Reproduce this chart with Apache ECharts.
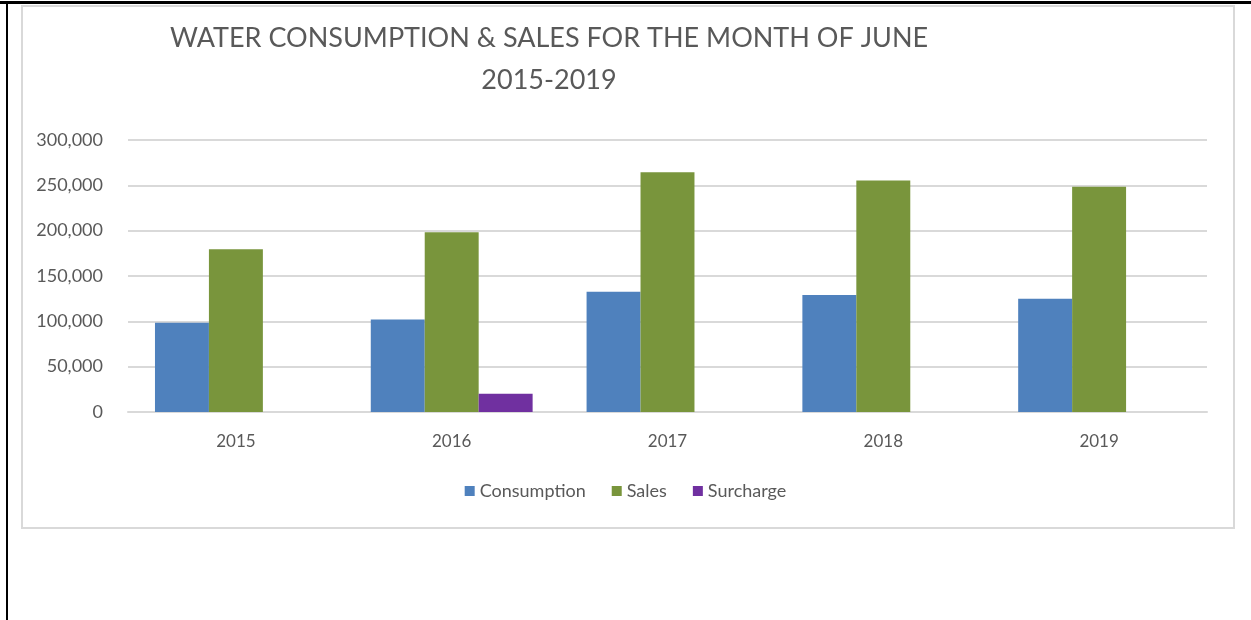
<!DOCTYPE html>
<html>
<head>
<meta charset="utf-8">
<script src="https://cdn.jsdelivr.net/npm/echarts@6/dist/echarts.min.js"></script>
<style>
    body { margin: 0; background: #fff; }
    #page { position: absolute; left: 0; top: 0; width: 1251px; height: 620px; }
    #edgeTop { position: absolute; left: 0; top: 1px; width: 1251px; height: 3px; background: #000; }
    #edgeLeft { position: absolute; left: 6px; top: 1px; width: 2px; height: 619px; background: #000; }
    #box { position: absolute; left: 21px; top: 5px; width: 1210px; height: 520px; border: 2px solid #d9d9d9; }
    #chart { position: absolute; left: 0; top: 0; width: 1251px; height: 620px; }
</style>
</head>
<body>
<div id="page">
    <div id="edgeTop"></div>
    <div id="edgeLeft"></div>
    <div id="box"></div>
    <div id="chart"></div>
</div>
<script>
const years = ['2015', '2016', '2017', '2018', '2019'];
const consumption = [98500, 102000, 132700, 129000, 125000];
const sales = [179500, 198200, 264400, 255200, 248500];
const surcharge = [0, 20000, 0, 0, 0];

const fontName = 'Lato';
const textGrey = '#595959';

var chart = echarts.init(document.getElementById('chart'));

var option = {
    animation: false,
    title: {
        text: 'WATER CONSUMPTION & SALES FOR THE MONTH OF JUNE\n2015-2019',
        left: 544,
        top: 12,
        textAlign: 'center',
        textStyle: {
            fontFamily: fontName,
            fontSize: 27,
            fontWeight: 'normal',
            color: textGrey,
            lineHeight: 42
        }
    },
    legend: {
        data: ['Consumption', 'Sales', 'Surcharge'],
        bottom: 115,
        left: 'center',
        icon: 'rect',
        itemWidth: 10,
        itemHeight: 10,
        itemGap: 26,
        textStyle: {
            fontFamily: fontName,
            fontSize: 18,
            color: textGrey
        }
    },
    grid: {
        left: 128,
        right: 44,
        top: 140,
        bottom: 208
    },
    xAxis: {
        type: 'category',
        data: years,
        axisTick: { show: false },
        axisLine: { lineStyle: { color: '#d9d9d9', width: 2 } },
        axisLabel: {
            margin: 21,
            fontFamily: fontName,
            fontSize: 17,
            color: textGrey
        }
    },
    yAxis: {
        type: 'value',
        min: 0,
        max: 300000,
        interval: 50000,
        axisLine: { show: false },
        axisTick: { show: false },
        splitLine: { lineStyle: { color: '#d9d9d9', width: 2 } },
        axisLabel: {
            margin: 25,
            fontFamily: fontName,
            fontSize: 18,
            color: textGrey,
            formatter: function (v) { return v.toLocaleString('en-US'); }
        }
    },
    series: [
        {
            name: 'Consumption',
            type: 'bar',
            data: consumption,
            barGap: '0%',
            barCategoryGap: '25%',
            itemStyle: { color: '#4f81bd' }
        },
        {
            name: 'Sales',
            type: 'bar',
            data: sales,
            itemStyle: { color: '#79953c' }
        },
        {
            name: 'Surcharge',
            type: 'bar',
            data: surcharge,
            itemStyle: { color: '#7030a0' }
        }
    ]
};
chart.setOption(option);
</script>
</body>
</html>
